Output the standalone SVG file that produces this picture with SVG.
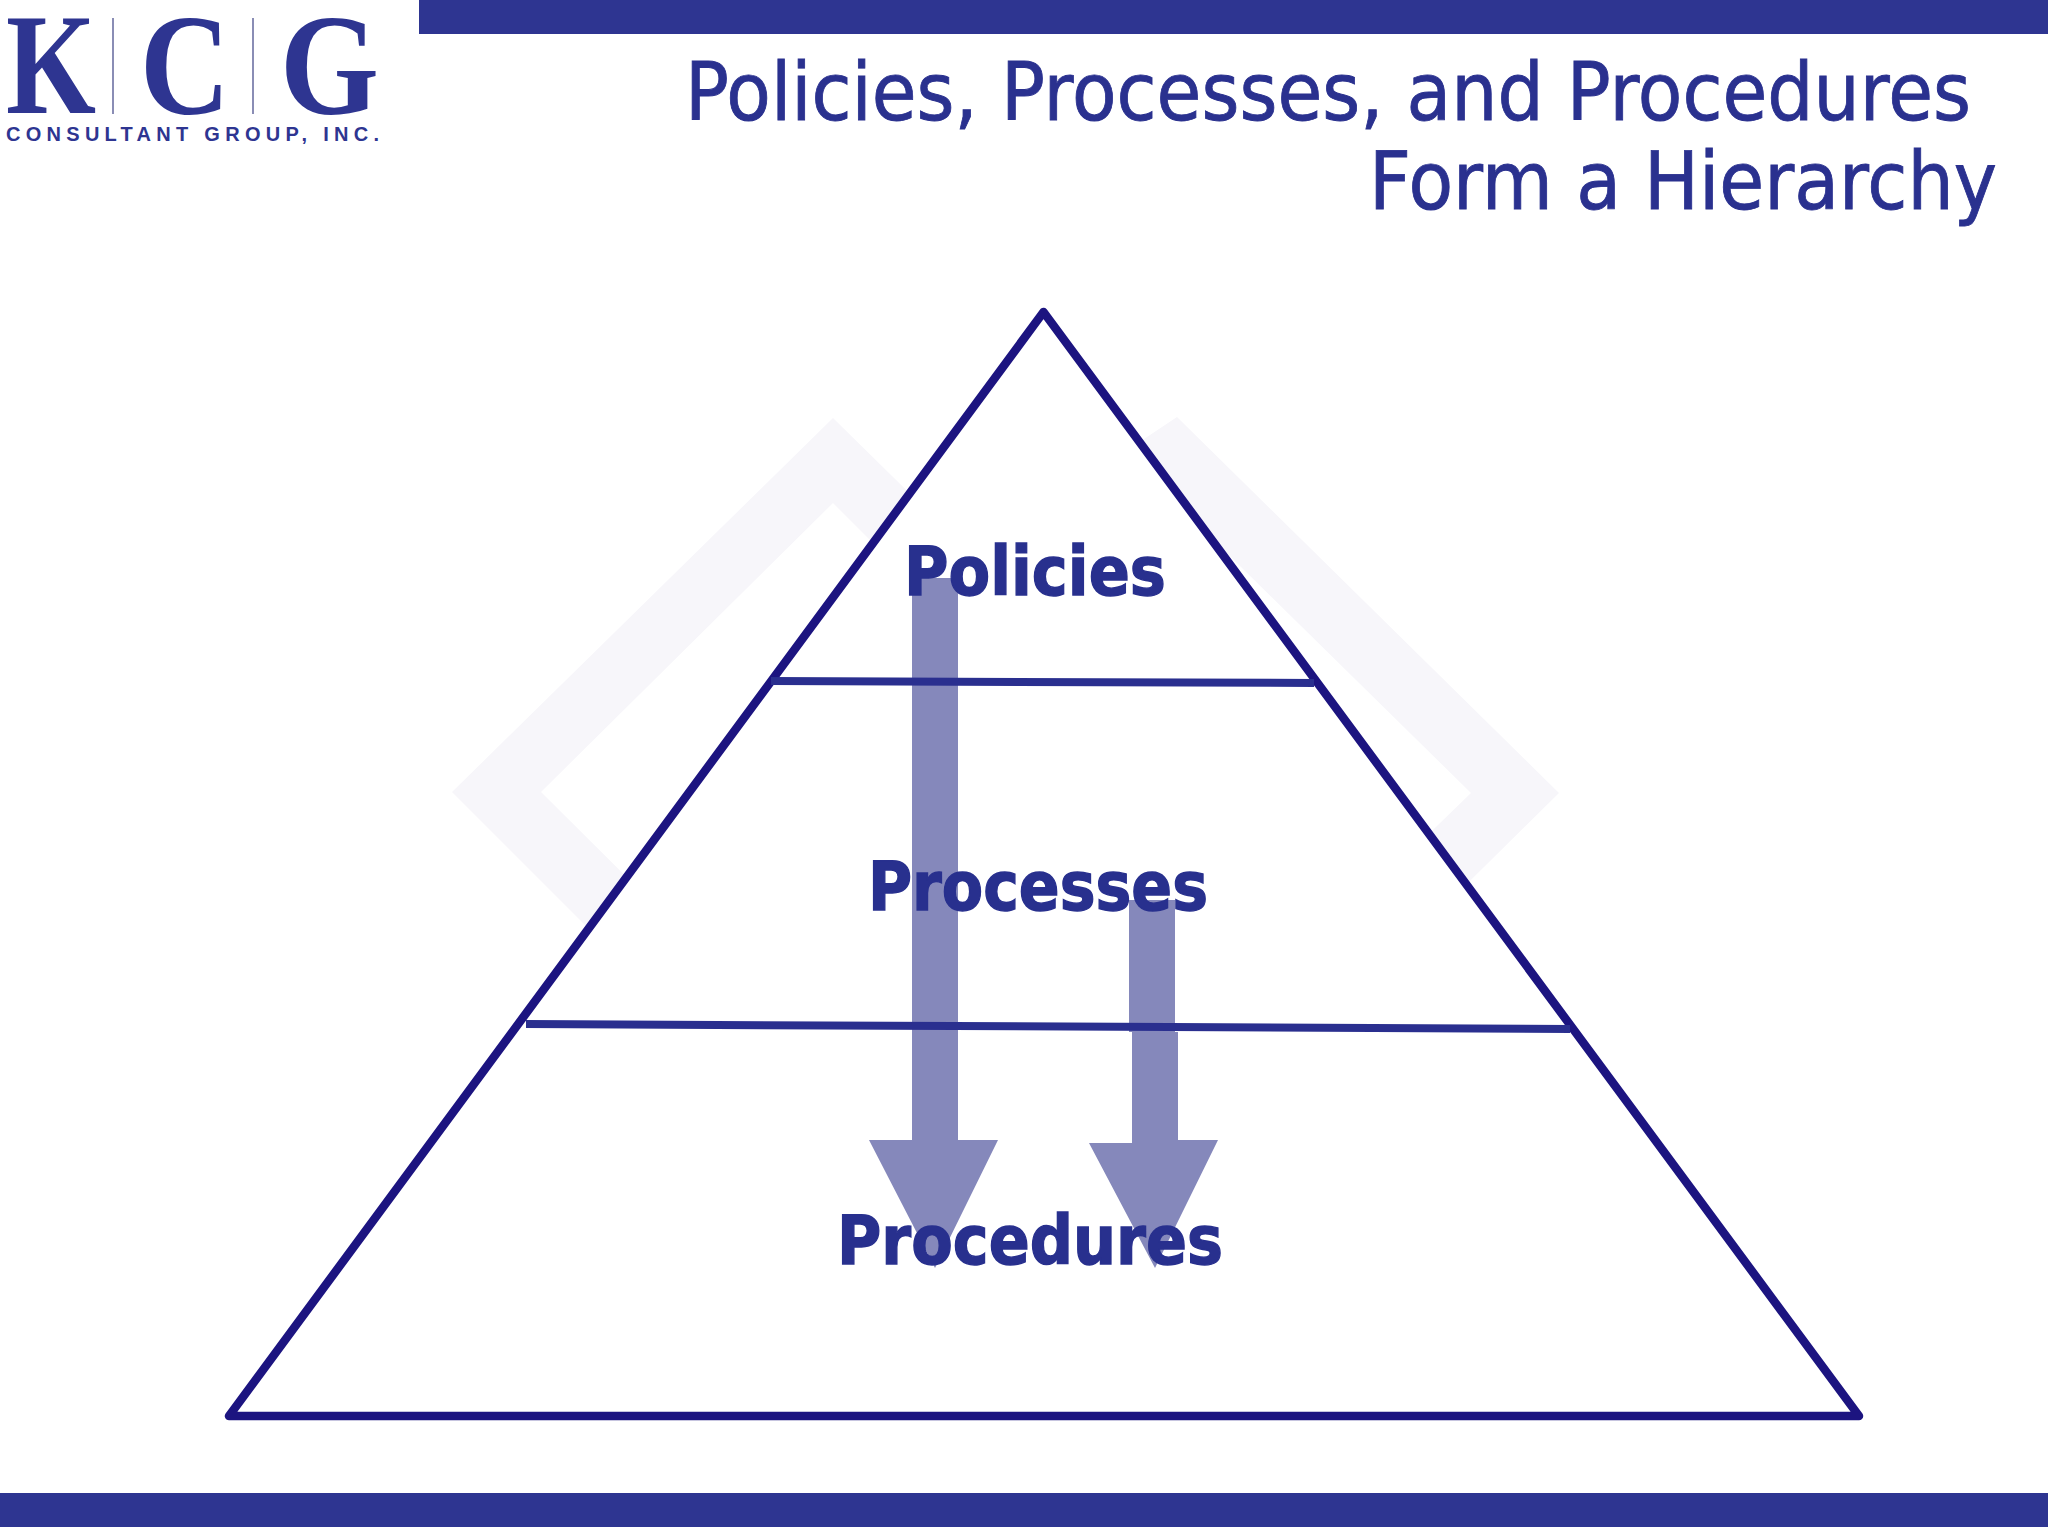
<svg xmlns="http://www.w3.org/2000/svg" width="2048" height="1536" viewBox="0 0 2048 1536">
<style>
.bar{fill:#2e3591}
.wm{fill:#f7f6fa}
.tri{fill:#fff;stroke:#1c1480;stroke-width:8.5;stroke-linejoin:round}
.tier{fill:none;stroke:#2a2f8f;stroke-width:8}
.arrow{fill:#8588bb}
.title{font-family:"DejaVu Sans",sans-serif;font-size:81px;fill:#2a318f;stroke:#2a318f;stroke-width:.9}
.label{font-family:"DejaVu Sans",sans-serif;font-weight:bold;font-size:68px;fill:#28308e;stroke:#28308e;stroke-width:1.4}
.logo{font-family:"Liberation Serif",serif;font-weight:bold;font-size:144px;fill:#2e3591}
.sub{font-family:"Liberation Sans",sans-serif;font-weight:bold;font-size:20px;fill:#2e3591}
</style>
<rect width="2048" height="1536" fill="#fff"/>
<g id="frame">
<rect class="bar" x="419" y="0" width="1629" height="34"/>
<rect class="bar" x="0" y="1493" width="2048" height="34"/>
</g>
<g id="logo">
<text class="logo" x="6" y="113" textLength="90" lengthAdjust="spacingAndGlyphs">K</text>
<rect x="112" y="18" width="2" height="96" fill="#8a8db5"/>
<text class="logo" x="140" y="114" textLength="90" lengthAdjust="spacingAndGlyphs">C</text>
<rect x="252" y="18" width="2" height="96" fill="#8a8db5"/>
<text class="logo" x="280" y="114" textLength="99" lengthAdjust="spacingAndGlyphs">G</text>
<text class="sub" x="6" y="141" textLength="373">CONSULTANT GROUP, INC.</text>
</g>
<g id="title">
<text class="title" x="685" y="120" textLength="1286" lengthAdjust="spacingAndGlyphs">Policies, Processes, and Procedures</text>
<text class="title" x="1369" y="209" textLength="628" lengthAdjust="spacingAndGlyphs">Form a Hierarchy</text>
</g>
<g id="watermark">
<polygon class="wm" points="950,533 833,418 452,792 620,960 700,950 541,792 833,503 900,570"/>
<polygon class="wm" points="1090,475 1177,417 1559,793 1400,950 1340,920 1471,793 1178,505 1100,580"/>
</g>
<g id="pyramid">
<polygon class="tri" points="1043.5,312 229,1416 1859,1416"/>
</g>
<g id="connectors">
<polygon class="arrow" points="912,578 958,578 958,1140 998,1140 935,1268 869,1140 912,1140"/>
<polygon class="arrow" points="1129,900 1175,900 1175,1032 1178,1032 1178,1140 1218,1140 1155,1268 1089,1143 1132,1143 1132,1032 1129,1032"/>
</g>
<g id="tiers">
<line class="tier" x1="771" y1="681" x2="1314" y2="683"/>
<line class="tier" x1="526" y1="1024" x2="1570" y2="1029"/>
</g>
<g id="node-policies"><text class="label" x="904" y="595" textLength="262" lengthAdjust="spacingAndGlyphs">Policies</text></g>
<g id="node-processes"><text class="label" x="868" y="910" textLength="340" lengthAdjust="spacingAndGlyphs">Processes</text></g>
<g id="node-procedures"><text class="label" x="837" y="1264" textLength="386" lengthAdjust="spacingAndGlyphs">Procedures</text></g>
</svg>
